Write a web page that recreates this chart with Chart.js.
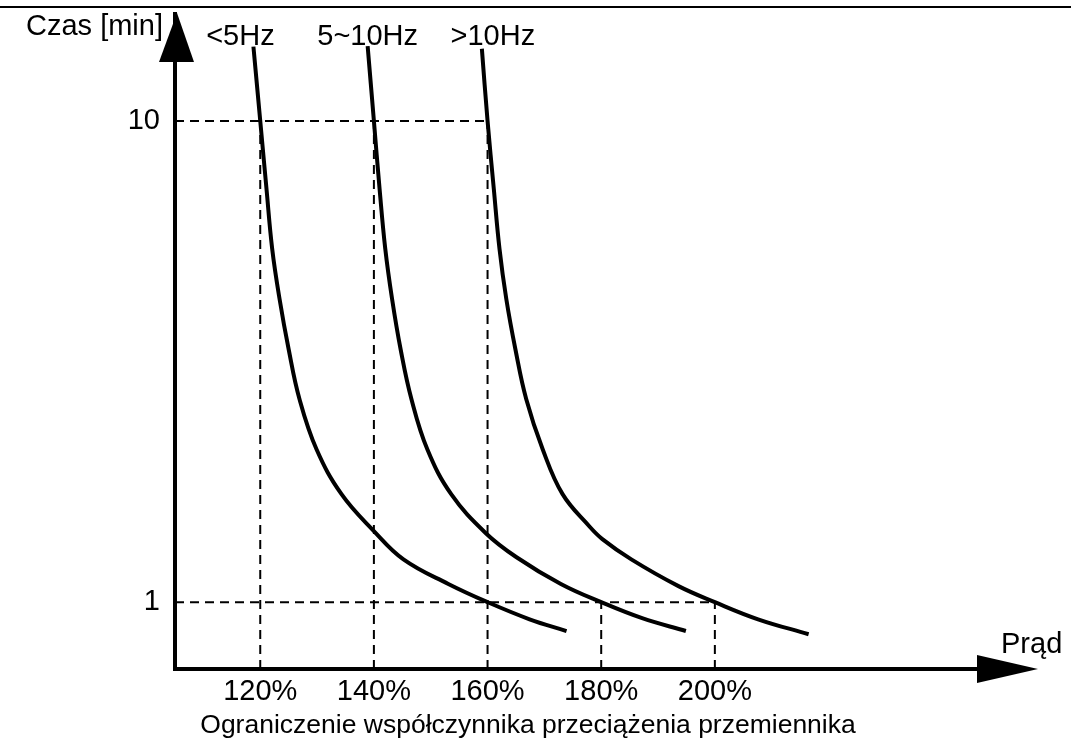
<!DOCTYPE html>
<html>
<head>
<meta charset="utf-8">
<script src="https://cdn.jsdelivr.net/npm/chart.js@4.4.1/dist/chart.umd.min.js"></script>
<style>
  html, body { margin: 0; padding: 0; background: #fff; }
  #wrap { width: 1071px; height: 744px; position: relative; }
</style>
</head>
<body>
<div id="wrap"><canvas id="chart"></canvas></div>
<script>
// overload curves: load [%] vs time [min]
const seriesNames = ['<5Hz', '5~10Hz', '>10Hz'];

const lowLoad = [118.8, 120, 121.1, 122.1, 123.4, 125.0, 126.9, 129.9, 134.3, 140, 145.2, 153.1, 160, 167.4, 173.9];
const lowTime = [11.39, 10, 8.73, 7.61, 6.67, 5.73, 4.80, 3.86, 3.02, 2.33, 1.80, 1.34, 1, 0.68, 0.46];

const midLoad = [138.9, 140, 141.0, 142.0, 143.2, 144.7, 146.6, 149.4, 153.6, 159.7, 165.1, 172.9, 180, 187.2, 194.9];
const midTime = [11.40, 10, 8.73, 7.61, 6.67, 5.73, 4.80, 3.86, 3.02, 2.29, 1.84, 1.34, 1, 0.70, 0.46];

const highLoad = [159.0, 160, 161.1, 162.1, 163.3, 164.9, 166.8, 169.7, 173.2, 177.9, 180.2, 185.3, 193.6, 200, 207.6, 216.5];
const highTime = [11.35, 10, 8.73, 7.61, 6.67, 5.73, 4.80, 3.86, 3.02, 2.42, 2.18, 1.80, 1.30, 1, 0.68, 0.40];

const loadTicks = [120, 140, 160, 180, 200];
const timeTicks = [1, 10];

// reference lines: vertical drop from each tick up to its marked time
const guideLoad = [120, 140, 160, 180, 200];
const guideTop = [10, 10, 10, 1, 1];
// horizontal lines from the time axis to the last curve
const guideTime = [10, 1];
const guideEnd = [160, 200];

const X_MIN = 105, X_MAX = 250, Y_MIN = -0.25, Y_MAX = 12;
const FONT = '"Liberation Sans", Arial, sans-serif';

const toPoints = (xs, ys) => xs.map((x, i) => ({ x, y: ys[i] }));

const guidePoints = [];
guideLoad.forEach((x, i) => {
    guidePoints.push({ x, y: Y_MIN }, { x, y: guideTop[i] }, { x, y: null });
});
guideTime.forEach((y, i) => {
    guidePoints.push({ x: X_MIN, y }, { x: guideEnd[i], y }, { x: guideEnd[i], y: null });
});

const curve = (label, xs, ys, dx) => ({
    label,
    data: toPoints(xs, ys),
    borderColor: '#000',
    borderWidth: 4,
    pointRadius: 0,
    tension: 0.4,
    labelDx: dx,
    isCurve: true,
});

const decorations = {
    id: 'decorations',
    afterDraw(chart) {
        const { ctx, chartArea: a } = chart;
        ctx.save();
        ctx.fillStyle = '#000';
        ctx.strokeStyle = '#000';

        // top rule
        ctx.lineWidth = 2;
        ctx.beginPath();
        ctx.moveTo(0, 7);
        ctx.lineTo(1071, 7);
        ctx.stroke();

        // axis arrows
        ctx.beginPath();
        ctx.moveTo(a.left + 2, a.top - 1);
        ctx.lineTo(a.left - 16, a.top + 48);
        ctx.lineTo(a.left + 19, a.top + 48);
        ctx.closePath();
        ctx.fill();

        ctx.beginPath();
        ctx.moveTo(a.right + 39, a.bottom);
        ctx.lineTo(a.right - 22, a.bottom - 14);
        ctx.lineTo(a.right - 22, a.bottom + 14);
        ctx.closePath();
        ctx.fill();

        ctx.font = '29px ' + FONT;
        ctx.textBaseline = 'alphabetic';
        ctx.textAlign = 'right';
        ctx.fillText('Czas [min]', a.left - 12, 35);
        ctx.textAlign = 'left';
        ctx.fillText('Prąd', a.right + 2, 653);

        // series names above curve tops
        ctx.textAlign = 'center';
        chart.data.datasets.forEach((ds, i) => {
            if (!ds.isCurve) return;
            const p = chart.getDatasetMeta(i).data[0];
            ctx.fillText(ds.label, p.x + ds.labelDx, 45);
        });

        // caption under the load axis
        ctx.font = '26.5px ' + FONT;
        ctx.fillText('Ograniczenie współczynnika przeciążenia przemiennika', 528, 733);
        ctx.restore();
    },
};

new Chart(document.getElementById('chart'), {
    type: 'line',
    data: {
        datasets: [
            {
                label: 'guides',
                data: guidePoints,
                borderColor: '#000',
                borderWidth: 2,
                borderDash: [9, 6],
                pointRadius: 0,
                spanGaps: false,
            },
            curve(seriesNames[0], lowLoad, lowTime, -13),
            curve(seriesNames[1], midLoad, midTime, 0),
            curve(seriesNames[2], highLoad, highTime, 11),
        ],
    },
    options: {
        responsive: true,
        maintainAspectRatio: false,
        animation: false,
        layout: { padding: { top: 14, right: 72, left: 0, bottom: 0 } },
        plugins: {
            legend: { display: false },
            tooltip: { enabled: false },
        },
        scales: {
            x: {
                type: 'linear',
                min: X_MIN,
                max: X_MAX,
                grid: { display: false, drawTicks: false },
                border: { display: true, color: '#000', width: 4 },
                afterBuildTicks: (s) => { s.ticks = loadTicks.map((v) => ({ value: v })); },
                afterFit: (s) => { s.height = 75; s.paddingLeft = 0; s.paddingRight = 0; },
                ticks: {
                    color: '#000',
                    padding: 6,
                    maxRotation: 0,
                    font: { family: FONT, size: 29 },
                    callback: (v) => v + '%',
                },
            },
            y: {
                type: 'linear',
                min: Y_MIN,
                max: Y_MAX,
                grid: { display: false, drawTicks: false },
                border: { display: true, color: '#000', width: 4 },
                afterBuildTicks: (s) => { s.ticks = timeTicks.map((v) => ({ value: v })); },
                afterFit: (s) => { s.width = 175; s.paddingTop = 0; s.paddingBottom = 0; },
                ticks: {
                    color: '#000',
                    padding: 15,
                    font: { family: FONT, size: 29 },
                },
            },
        },
    },
    plugins: [decorations],
});
</script>
</body>
</html>
